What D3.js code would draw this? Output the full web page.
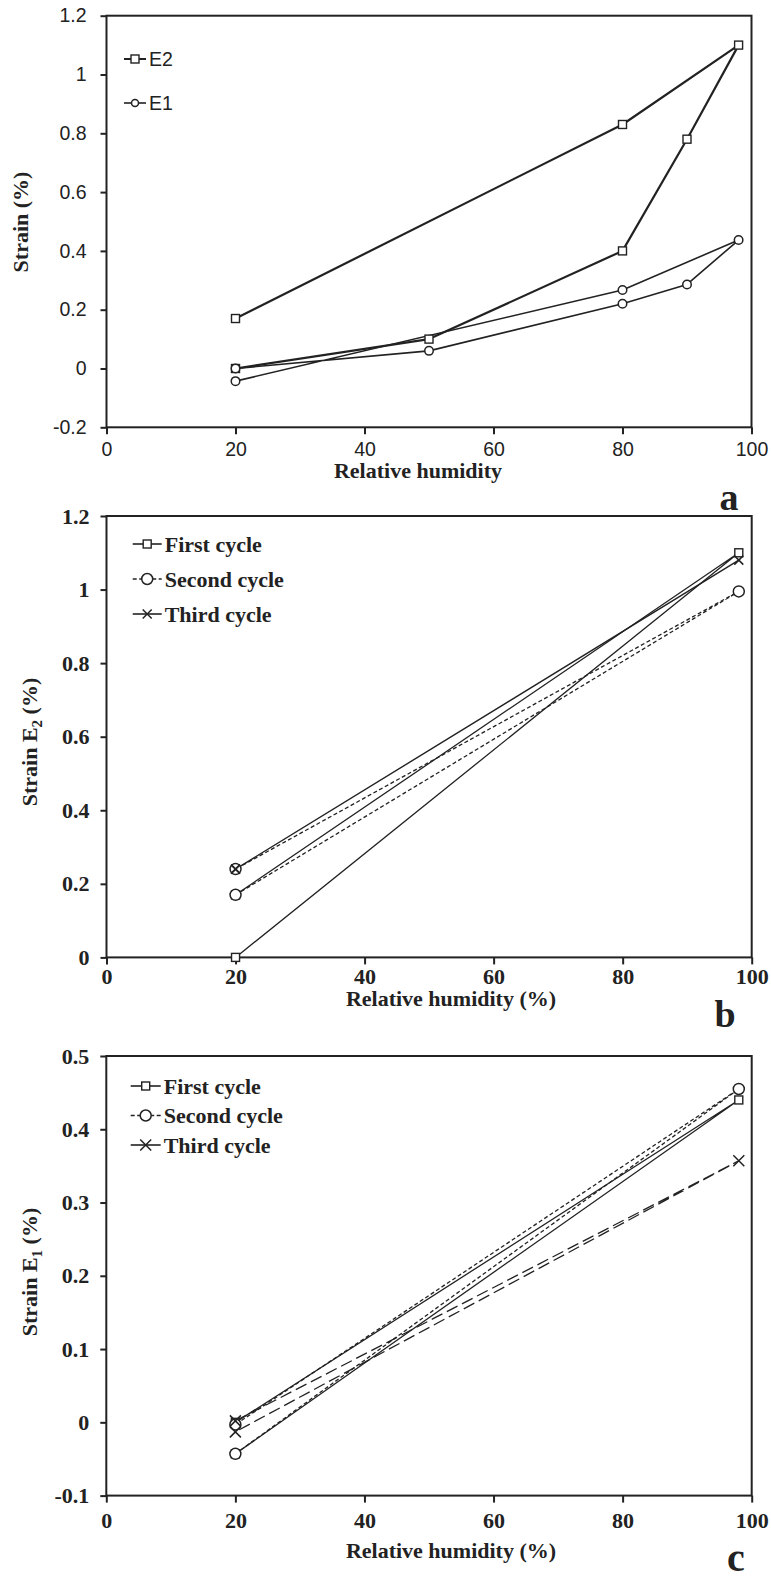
<!DOCTYPE html>
<html><head><meta charset="utf-8">
<script src="https://cdn.jsdelivr.net/npm/d3@7"></script>
<style>body{margin:0;background:#fff}svg{display:block}</style>
</head><body>
<svg id="c" width="771" height="1580"></svg>
<script>
// ---------- data ----------
// Panel a
const rhA_E2 = [20, 50, 80, 90, 98, 80, 20];
const strainA_E2 = [0, 0.10, 0.40, 0.78, 1.10, 0.83, 0.17];
const rhA_E1 = [20, 50, 80, 90, 98, 80, 20];
const strainA_E1 = [0, 0.06, 0.22, 0.286, 0.437, 0.267, -0.043];
const legendA = ["E2", "E1"];
const yTicksA = [-0.2, 0, 0.2, 0.4, 0.6, 0.8, 1, 1.2];
const yTickLabelsA = ["-0.2", "0", "0.2", "0.4", "0.6", "0.8", "1", "1.2"];
// Panel b (strain E2, three cycles)
const rhCycle = [20, 98, 20];
const strainB_first = [0, 1.10, 0.17];
const strainB_second = [0.17, 0.995, 0.24];
const strainB_third = [0.24, 1.08, 0.24];
const yTicksB = [0, 0.2, 0.4, 0.6, 0.8, 1, 1.2];
const yTickLabelsB = ["0", "0.2", "0.4", "0.6", "0.8", "1", "1.2"];
// Panel c (strain E1, three cycles)
const strainC_first = [0, 0.44, -0.043];
const strainC_second = [-0.043, 0.455, -0.003];
const strainC_third = [0.002, 0.357, -0.013];
const yTicksC = [-0.1, 0, 0.1, 0.2, 0.3, 0.4, 0.5];
const yTickLabelsC = ["-0.1", "0", "0.1", "0.2", "0.3", "0.4", "0.5"];
const cycleNames = ["First cycle", "Second cycle", "Third cycle"];
const xTicks = [0, 20, 40, 60, 80, 100];
const xTickLabels = ["0", "20", "40", "60", "80", "100"];

const INK = "#222";
const svg = d3.select("#c");

function marker(g, type, x, y, s) {
  if (type === "square") {
    g.append("rect").attr("x", x - s / 2).attr("y", y - s / 2).attr("width", s).attr("height", s)
      .attr("fill", "#fff").attr("stroke", INK).attr("stroke-width", 1.4);
  } else if (type === "circle") {
    g.append("circle").attr("cx", x).attr("cy", y).attr("r", s / 2)
      .attr("fill", "#fff").attr("stroke", INK).attr("stroke-width", 1.5);
  } else if (type === "x") {
    const h = s / 2;
    g.append("path").attr("d", `M${x - h},${y - h}L${x + h},${y + h}M${x - h},${y + h}L${x + h},${y - h}`)
      .attr("stroke", INK).attr("stroke-width", 1.5).attr("fill", "none");
  }
}

function panel(cfg) {
  const g = svg.append("g");
  const x = d3.scaleLinear().domain([0, 100]).range([cfg.left, cfg.right]);
  const y = d3.scaleLinear().domain(cfg.yDomain).range([cfg.bottom, cfg.top]);

  const ya = d3.axisLeft(y).tickValues(cfg.yTicks).tickSize(6).tickSizeOuter(0)
    .tickPadding(cfg.yPad).tickFormat((d, i) => cfg.yLabels[i]);
  const yg = g.append("g").attr("transform", `translate(${cfg.left},0)`).call(ya);
  const xa = d3.axisBottom(x).tickValues(xTicks).tickSize(7).tickSizeOuter(0)
    .tickPadding(cfg.xPad).tickFormat((d, i) => xTickLabels[i]);
  const xg = g.append("g").attr("transform", `translate(0,${cfg.bottom})`).call(xa);
  [yg, xg].forEach(a => {
    a.select(".domain").remove();
    a.selectAll("line").attr("stroke", INK).attr("stroke-width", 2);
    a.selectAll("text").attr("fill", INK).attr("font-family", cfg.tickFont)
      .attr("font-weight", cfg.tickWeight).attr("font-size", cfg.tickSize);
  });
  g.append("rect").attr("x", cfg.left).attr("y", cfg.top)
    .attr("width", cfg.right - cfg.left).attr("height", cfg.bottom - cfg.top)
    .attr("fill", "none").attr("stroke", INK).attr("stroke-width", 2);

  const line = d3.line().x(d => x(d[0])).y(d => y(d[1]));
  cfg.series.forEach(s => {
    const pts = s.rh.map((r, i) => [r, s.v[i]]);
    g.append("path").attr("d", line(pts)).attr("fill", "none").attr("stroke", INK)
      .attr("stroke-width", s.w).attr("stroke-dasharray", s.dash || null)
      .attr("stroke-linejoin", "round");
  });
  cfg.series.forEach(s => {
    s.rh.forEach((r, i) => marker(g, s.marker, x(r), y(s.v[i]), s.ms));
  });
  // legend
  cfg.series.forEach((s, i) => {
    const ly = cfg.legY + i * cfg.legStep;
    g.append("path").attr("d", `M${cfg.legX0},${ly}H${cfg.legX1}`).attr("stroke", INK)
      .attr("stroke-width", s.legW || s.w).attr("stroke-dasharray", s.legDash || s.dash || null);
    marker(g, s.marker, (cfg.legX0 + cfg.legX1) / 2, ly, s.legMs || s.ms);
    g.append("text").attr("x", cfg.legX1 + 3).attr("y", ly).attr("dy", "0.35em")
      .attr("font-family", cfg.legFont).attr("font-weight", cfg.legWeight)
      .attr("font-size", cfg.legSize).attr("fill", INK).text(s.name);
  });
  // axis titles
  g.append("text").attr("x", cfg.xTitleX).attr("y", cfg.xTitleY).attr("text-anchor", "middle")
    .attr("font-family", "Liberation Serif").attr("font-weight", "bold").attr("font-size", 22)
    .attr("fill", INK).text(cfg.xTitle);
  const yt = g.append("text").attr("transform", `translate(${cfg.yTitleX},${cfg.yTitleY}) rotate(-90)`)
    .attr("text-anchor", "middle").attr("font-family", "Liberation Serif").attr("font-weight", "bold")
    .attr("font-size", 22).attr("fill", INK);
  yt.append("tspan").text(cfg.yTitle[0]);
  if (cfg.yTitle[1]) {
    yt.append("tspan").attr("font-size", 15).attr("dy", 5).text(cfg.yTitle[1]);
    yt.append("tspan").attr("dy", -5).text(cfg.yTitle[2]);
  }
  g.append("text").attr("x", cfg.tagX).attr("y", cfg.tagY).attr("text-anchor", "middle")
    .attr("font-family", "Liberation Serif").attr("font-weight", "bold").attr("font-size", cfg.tagSize)
    .attr("fill", INK).text(cfg.tag);
}

panel({
  left: 106.5, right: 751.5, top: 15.7, bottom: 427.3, yDomain: [-0.2, 1.2],
  yTicks: yTicksA, yLabels: yTickLabelsA, yPad: 14, xPad: 8,
  tickFont: "Liberation Sans", tickWeight: "normal", tickSize: 19.5,
  series: [
    { name: legendA[0], rh: rhA_E2, v: strainA_E2, marker: "square", ms: 8, w: 2.2, legW: 2 },
    { name: legendA[1], rh: rhA_E1, v: strainA_E1, marker: "circle", ms: 8.5, w: 1.6, legMs: 7 }
  ],
  legX0: 124, legX1: 146, legY: 59, legStep: 44,
  legFont: "Liberation Sans", legWeight: "normal", legSize: 19.5,
  xTitle: "Relative humidity", xTitleX: 418, xTitleY: 478,
  yTitle: ["Strain (%)"], yTitleX: 28, yTitleY: 222,
  tag: "a", tagX: 729, tagY: 510, tagSize: 38
});

panel({
  left: 106.5, right: 751.7, top: 516, bottom: 957.4, yDomain: [0, 1.2],
  yTicks: yTicksB, yLabels: yTickLabelsB, yPad: 11, xPad: 4,
  tickFont: "Liberation Serif", tickWeight: "bold", tickSize: 22,
  series: [
    { name: cycleNames[0], rh: rhCycle, v: strainB_first, marker: "square", ms: 8, w: 1.3, legW: 1.6 },
    { name: cycleNames[1], rh: rhCycle, v: strainB_second, marker: "circle", ms: 11, w: 1.3, dash: "4,2.5", legW: 1.6 },
    { name: cycleNames[2], rh: rhCycle, v: strainB_third, marker: "x", ms: 9, w: 1.4, legW: 1.6 }
  ],
  legX0: 132.7, legX1: 161.7, legY: 544, legStep: 35,
  legFont: "Liberation Serif", legWeight: "bold", legSize: 22,
  xTitle: "Relative humidity (%)", xTitleX: 451, xTitleY: 1006,
  yTitle: ["Strain E", "2", " (%)"], yTitleX: 37, yTitleY: 742,
  tag: "b", tagX: 725, tagY: 1027, tagSize: 38
});

panel({
  left: 106.3, right: 751.7, top: 1056, bottom: 1495.6, yDomain: [-0.1, 0.5],
  yTicks: yTicksC, yLabels: yTickLabelsC, yPad: 11, xPad: 10,
  tickFont: "Liberation Serif", tickWeight: "bold", tickSize: 22,
  series: [
    { name: cycleNames[0], rh: rhCycle, v: strainC_first, marker: "square", ms: 8, w: 1.3, legW: 1.6 },
    { name: cycleNames[1], rh: rhCycle, v: strainC_second, marker: "circle", ms: 11, w: 1.3, dash: "4,2.5", legW: 1.6 },
    { name: cycleNames[2], rh: rhCycle, v: strainC_third, marker: "x", ms: 11, w: 1.3, dash: "12,5", legW: 1.6, legDash: "none" }
  ],
  legX0: 130.7, legX1: 160.7, legY: 1086, legStep: 29.5,
  legFont: "Liberation Serif", legWeight: "bold", legSize: 22,
  xTitle: "Relative humidity (%)", xTitleX: 451, xTitleY: 1558,
  yTitle: ["Strain E", "1", " (%)"], yTitleX: 37, yTitleY: 1272,
  tag: "c", tagX: 736, tagY: 1571, tagSize: 40
});
</script>
</body></html>
